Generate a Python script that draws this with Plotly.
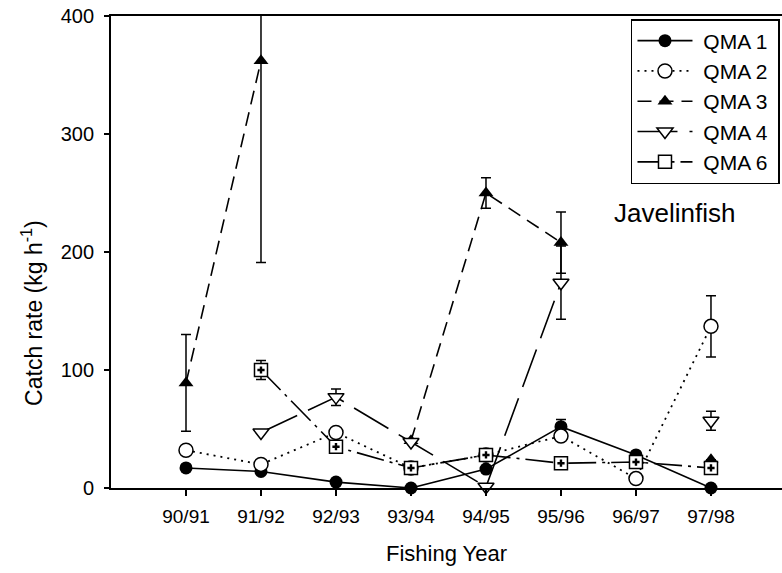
import plotly.graph_objects as go

# Fishing years on the x axis
years = ["90/91", "91/92", "92/93", "93/94", "94/95", "95/96", "96/97", "97/98"]

# Mean catch rate (kg/h) per QMA, None where no survey
qma1 = [17, 14, 5, 0, 16, 52, 28, 0]
qma2 = [32, 20, 47, 17, 28, 44, 8, 137]
qma3 = [89, 362, None, 40, 250, 208, None, 24]
qma4 = [None, 47, 77, 39, 1, 174, None, 57]
qma6 = [None, 100, 35, 17, 28, 21, 22, 17]

# Standard errors
err1 = [0, 0, 0, 0, 0, 6, 0, 0]
err2 = [0, 0, 0, 0, 0, 0, 0, 26]
err3 = [41, 171, 0, 0, 13, 26, 0, 0]
err4 = [0, 0, 7, 0, 0, 31, 0, 8]
err6 = [0, 8, 0, 0, 0, 0, 0, 0]

FONT = "Liberation Sans, Arial, sans-serif"
xs = list(range(len(years)))


def errbar(e):
    return dict(type="data", array=e, visible=True, color="black",
                thickness=1.5, width=5)


fig = go.Figure()

fig.add_trace(go.Scatter(
    x=xs, y=qma1, name=" QMA 1 ", mode="lines+markers",
    line=dict(color="black", width=1.6),
    marker=dict(symbol="circle", size=13, color="black"),
    error_y=errbar(err1), cliponaxis=False))

fig.add_trace(go.Scatter(
    x=xs, y=qma2, name=" QMA 2 ", mode="lines+markers",
    line=dict(color="black", width=1.8, dash="2px,5px"),
    marker=dict(symbol="circle", size=14, color="white",
                line=dict(color="black", width=1.5)),
    error_y=errbar(err2), cliponaxis=False))

fig.add_trace(go.Scatter(
    x=xs, y=qma3, name=" QMA 3 ", mode="lines+markers",
    line=dict(color="black", width=1.6, dash="14px,8px"),
    marker=dict(symbol="triangle-up", size=13, color="black"),
    error_y=errbar(err3), cliponaxis=True))

fig.add_trace(go.Scatter(
    x=xs, y=qma4, name=" QMA 4 ", mode="lines+markers",
    line=dict(color="black", width=1.6, dash="40px,12px"),
    marker=dict(symbol="triangle-down", size=14, color="white",
                line=dict(color="black", width=1.5)),
    error_y=errbar(err4), cliponaxis=False))

fig.add_trace(go.Scatter(
    x=xs, y=qma6, name=" QMA 6 ", mode="lines+markers",
    line=dict(color="black", width=1.6, dash="28px,6px,3px,6px"),
    marker=dict(symbol="square", size=13, color="white",
                line=dict(color="black", width=1.5)),
    error_y=errbar(err6), cliponaxis=False, legendgroup="q6"))

# small plus inside the QMA 6 squares
fig.add_trace(go.Scatter(
    x=xs, y=qma6, mode="markers", showlegend=False, legendgroup="q6",
    marker=dict(symbol="cross", size=6, color="black"),
    cliponaxis=False, hoverinfo="skip"))

fig.add_annotation(x=6.52, y=233, xref="x", yref="y", text="Javelinfish",
                   showarrow=False, font=dict(family=FONT, size=26, color="black"))

# y-axis title, set a little below the axis midpoint
fig.add_annotation(x=-0.1177, y=0.371, xref="paper", yref="paper",
                   xanchor="center", yanchor="middle",
                   text="Catch rate (kg h<sup>-1</sup>)", textangle=-90,
                   showarrow=False, font=dict(family=FONT, size=23, color="black"))

fig.update_layout(
    width=782, height=573,
    margin=dict(l=111, r=0, t=16, b=85),
    paper_bgcolor="white", plot_bgcolor="white",
    font=dict(family=FONT, color="black"),
    showlegend=True,
    legend=dict(x=0.997, xanchor="right", y=0.9936, yanchor="top",
                bgcolor="white", bordercolor="black", borderwidth=1.5,
                font=dict(family=FONT, size=21, color="black"),
                itemwidth=55, tracegroupgap=0),
    xaxis=dict(
        range=[-1, 7.947], tickmode="array", tickvals=xs, ticktext=years,
        showline=True, linecolor="black", linewidth=1.8, mirror=True,
        ticks="outside", ticklen=6, tickwidth=1.5, tickcolor="black",
        ticklabelstandoff=4,
        showgrid=False, zeroline=False,
        tickfont=dict(family=FONT, size=19, color="black"),
        title=dict(text="Fishing Year", standoff=20,
                   font=dict(family=FONT, size=22, color="black"))),
    yaxis=dict(
        range=[0, 400], tickvals=[0, 100, 200, 300, 400],
        showline=True, linecolor="black", linewidth=1.8,
        ticks="outside", ticklen=5, tickwidth=1.5, tickcolor="black",
        ticklabelstandoff=6,
        showgrid=False, zeroline=False,
        tickfont=dict(family=FONT, size=20, color="black")),
)

fig.write_html("out.html")
